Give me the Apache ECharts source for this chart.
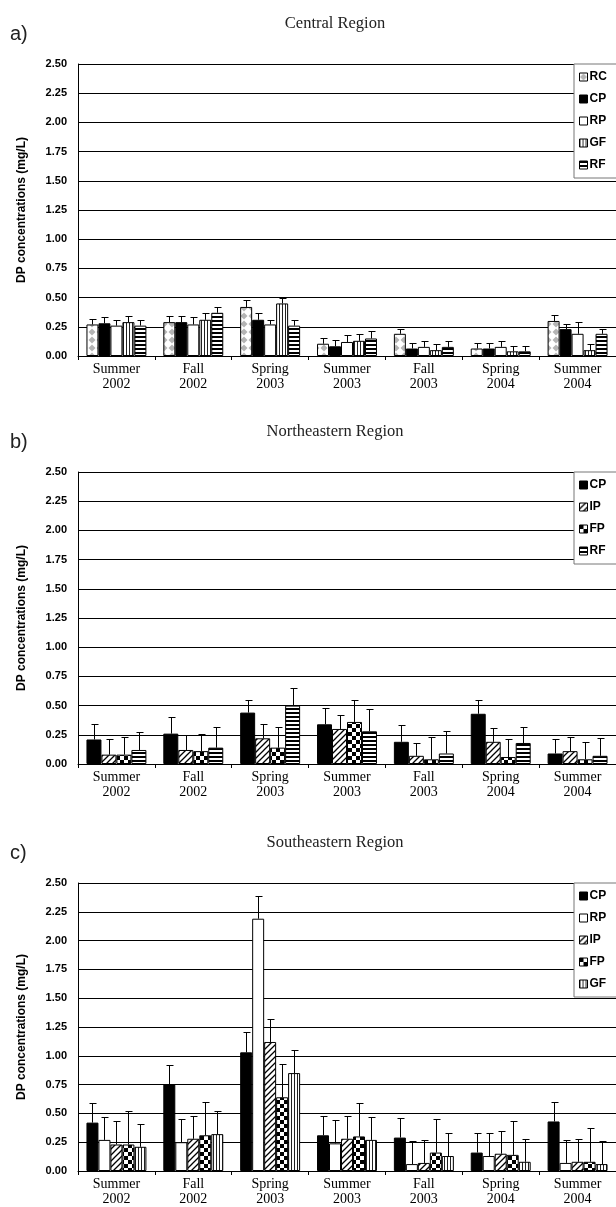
<!DOCTYPE html>
<html><head><meta charset="utf-8">
<script src="https://cdn.jsdelivr.net/npm/echarts@6/dist/echarts.min.js"></script>
<style>html,body{margin:0;padding:0;background:#fff}#c{width:616px;height:1207px}</style>
</head><body><div id="c"></div>
<script>
const categories = ['Summer\n2002','Fall\n2002','Spring\n2003','Summer\n2003','Fall\n2003','Spring\n2004','Summer\n2004'];
const yTicks = [0,0.25,0.5,0.75,1,1.25,1.5,1.75,2,2.25,2.5];

// Panel a: Central Region (bar value, top of error bar)
const aRC  = [0.27,0.29,0.42,0.105,0.19,0.064,0.30];
const aRCe = [0.32,0.34,0.48,0.156,0.23,0.11,0.355];
const aCP  = [0.28,0.29,0.31,0.083,0.064,0.064,0.23];
const aCPe = [0.33,0.34,0.37,0.14,0.11,0.11,0.27];
const aRP  = [0.26,0.27,0.27,0.12,0.078,0.078,0.19];
const aRPe = [0.31,0.33,0.31,0.18,0.128,0.128,0.29];
const aGF  = [0.29,0.31,0.45,0.13,0.05,0.04,0.05];
const aGFe = [0.34,0.37,0.50,0.19,0.10,0.086,0.105];
const aRF  = [0.26,0.37,0.26,0.15,0.078,0.04,0.19];
const aRFe = [0.31,0.42,0.31,0.21,0.128,0.086,0.23];

// Panel b: Northeastern Region
const bCP  = [0.21,0.26,0.44,0.34,0.19,0.43,0.09];
const bCPe = [0.34,0.40,0.55,0.48,0.33,0.55,0.21];
const bIP  = [0.08,0.12,0.22,0.30,0.07,0.19,0.11];
const bIPe = [0.21,0.25,0.34,0.42,0.18,0.31,0.23];
const bFP  = [0.08,0.11,0.14,0.36,0.04,0.06,0.04];
const bFPe = [0.23,0.26,0.32,0.55,0.23,0.21,0.19];
const bRF  = [0.12,0.14,0.50,0.28,0.09,0.18,0.07];
const bRFe = [0.27,0.32,0.65,0.47,0.28,0.32,0.22];

// Panel c: Southeastern Region
const cCP  = [0.42,0.75,1.03,0.31,0.29,0.16,0.43];
const cCPe = [0.59,0.92,1.21,0.48,0.46,0.33,0.60];
const cRP  = [0.27,0.25,2.19,0.24,0.06,0.13,0.07];
const cRPe = [0.47,0.45,2.39,0.44,0.26,0.33,0.27];
const cIP  = [0.23,0.28,1.12,0.28,0.07,0.15,0.08];
const cIPe = [0.43,0.48,1.32,0.48,0.27,0.35,0.28];
const cFP  = [0.23,0.31,0.64,0.30,0.16,0.14,0.08];
const cFPe = [0.52,0.60,0.93,0.59,0.45,0.43,0.37];
const cGF  = [0.21,0.32,0.85,0.27,0.13,0.08,0.06];
const cGFe = [0.41,0.52,1.05,0.47,0.33,0.28,0.26];

function pat(w,h,draw){
  const c=document.createElement('canvas'); c.width=w; c.height=h;
  const g=c.getContext('2d'); g.fillStyle='#fff'; g.fillRect(0,0,w,h); draw(g);
  return {image:c, repeat:'repeat'};
}
const P = {
  black:'#000',
  white:'#fff',
  rc: pat(8,8,g=>{g.fillStyle='#b4b4b4';g.beginPath();g.moveTo(4,0.5);g.lineTo(7.5,4);g.lineTo(4,7.5);g.lineTo(0.5,4);g.closePath();g.fill();}),
  vstr: pat(3,2,g=>{g.fillStyle='#222';g.fillRect(0,0,1,2);}),
  hstr: pat(2,4,g=>{g.fillStyle='#000';g.fillRect(0,0,2,2);}),
  diag: pat(6,6,g=>{g.strokeStyle='#000';g.lineWidth=1.3;g.beginPath();g.moveTo(-1,7);g.lineTo(7,-1);g.moveTo(-1,1);g.lineTo(1,-1);g.moveTo(5,7);g.lineTo(7,5);g.stroke();}),
  check: pat(8,8,g=>{g.fillStyle='#000';g.fillRect(0,0,4,4);g.fillRect(4,4,4,4);})
};

const GAP = 0.22;
const panels = [
  {top:64, letter:'a)', title:'Central Region', series:[
    ['RC',aRC,aRCe,P.rc],['CP',aCP,aCPe,P.black],['RP',aRP,aRPe,P.white],['GF',aGF,aGFe,P.vstr],['RF',aRF,aRFe,P.hstr]]},
  {top:472, letter:'b)', title:'Northeastern Region', series:[
    ['CP',bCP,bCPe,P.black],['IP',bIP,bIPe,P.diag],['FP',bFP,bFPe,P.check],['RF',bRF,bRFe,P.hstr]]},
  {top:883, letter:'c)', title:'Southeastern Region', series:[
    ['CP',cCP,cCPe,P.black],['RP',cRP,cRPe,P.white],['IP',cIP,cIPe,P.diag],['FP',cFP,cFPe,P.check],['GF',cGF,cGFe,P.vstr]]}
];
const H = 292;

const option = {animation:false, backgroundColor:'#fff', grid:[], xAxis:[], yAxis:[], legend:[], series:[], graphic:[]};
panels.forEach((p,gi)=>{
  option.grid.push({left:78, top:p.top, width:541, height:H});
  option.xAxis.push({type:'category', gridIndex:gi, data:categories,
    axisLine:{show:true, lineStyle:{color:'#000', width:1}},
    axisTick:{show:true, interval:0, length:4, lineStyle:{color:'#000'}},
    axisLabel:{interval:0, margin:6, fontFamily:'Liberation Serif', fontSize:14, lineHeight:15, color:'#000'},
    splitLine:{show:false}});
  option.yAxis.push({type:'value', gridIndex:gi, min:0, max:2.5, interval:0.25,
    name:'DP concentrations (mg/L)', nameLocation:'middle', nameGap:50,
    nameTextStyle:{fontFamily:'Liberation Sans', fontWeight:'bold', fontSize:12, color:'#000'},
    axisLine:{show:true, lineStyle:{color:'#000', width:1}},
    axisTick:{show:false},
    axisLabel:{margin:11, fontFamily:'Liberation Sans', fontWeight:'bold', fontSize:11, color:'#000', formatter:v=>v.toFixed(2)},
    splitLine:{show:true, lineStyle:{color:'#000', width:1}}});
  const n = p.series.length;
  p.series.forEach((s,idx)=>{
    option.series.push({type:'bar', name:s[0], xAxisIndex:gi, yAxisIndex:gi, data:s[1],
      barGap:'0%', barCategoryGap:(GAP*100)+'%', z:2,
      itemStyle:{color:s[3], borderColor:'#000', borderWidth:1}});
    option.series.push({type:'custom', name:'err'+gi+'_'+idx, xAxisIndex:gi, yAxisIndex:gi, z:3, silent:true,
      data:s[1].map((v,k)=>[k,v,s[2][k]]),
      renderItem:(params, api)=>{
        const k=api.value(0), v=api.value(1), t=api.value(2);
        const a=api.coord([k,v]), b=api.coord([k,t]);
        const band=api.size([1,0])[0];
        const gw=band*(1-GAP), bw=gw/n;
        const cx=Math.round(a[0]-gw/2+(idx+0.5)*bw)+0.5;
        const ty=Math.round(b[1])+0.5;
        return {type:'group', children:[
          {type:'line', shape:{x1:cx,y1:a[1],x2:cx,y2:ty}, style:{stroke:'#000', lineWidth:1}},
          {type:'line', shape:{x1:cx-3,y1:ty,x2:cx+4,y2:ty}, style:{stroke:'#000', lineWidth:1}}
        ]};
      }});
  });
  option.legend.push({data:p.series.map(s=>s[0]), orient:'vertical', left:574, top:p.top,
    icon:'rect', itemWidth:8, itemHeight:8, itemGap:10, selectedMode:false,
    backgroundColor:'#fff', borderColor:'#777', borderWidth:1, borderRadius:0, padding:[7,20,7,5],
    itemStyle:{borderColor:'#000', borderWidth:1},
    textStyle:{fontFamily:'Liberation Sans', fontWeight:'bold', fontSize:12, color:'#000', padding:[0,0,0,-3]}});
  option.graphic.push({type:'text', x:335, y:p.top-40, style:{text:p.title, font:'16.5px "Liberation Serif"', fill:'#222', textAlign:'center', textVerticalAlign:'middle'}});
  option.graphic.push({type:'text', x:10, y:p.top-30, style:{text:p.letter, font:'20px "Liberation Sans"', fill:'#222', textAlign:'left', textVerticalAlign:'middle'}});
});

const chart = echarts.init(document.getElementById('c'));
chart.setOption(option);
</script></body></html>
